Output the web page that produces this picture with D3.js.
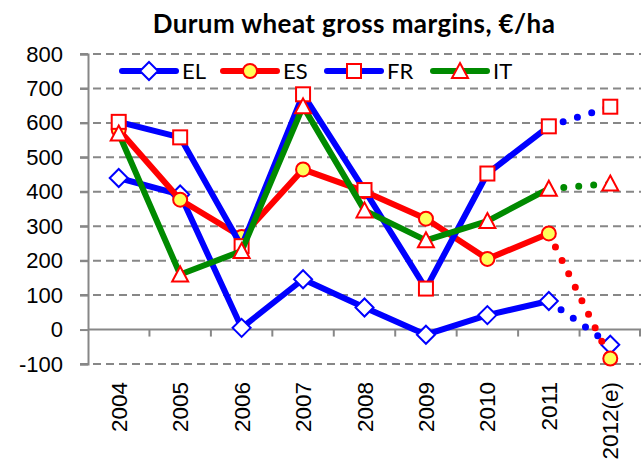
<!DOCTYPE html>
<html>
<head>
<meta charset="utf-8">
<script src="https://cdn.jsdelivr.net/npm/d3@7"></script>
<style>
  body { margin: 0; background: #fff; }
  svg { font-family: Lato, "Open Sans", sans-serif; }
</style>
</head>
<body>
<div id="chart"></div>
<script>
const w = 641,
      h = 461;

const years = ["2004", "2005", "2006", "2007", "2008", "2009", "2010", "2011", "2012(e)"];
const yTicks = [-100, 0, 100, 200, 300, 400, 500, 600, 700, 800];

const elValues = [440, 392, 5, 146, 64, -15, 42, 83, -44];
const esValues = [580, 377, 269, 465, 401, 322, 205, 279, -84];
const frValues = [603, 558, 242, 683, 405, 119, 453, 590, 647];
const itValues = [569, 160, 228, 648, 346, 259, 315, 409, 424];

const series = [
    {name: "EL", values: elValues, line: "#0000ff", marker: "diamond", mStroke: "#0000ff", mFill: "#fff"},
    {name: "ES", values: esValues, line: "#ff0000", marker: "circle", mStroke: "#ff0000", mFill: "#ffff5a"},
    {name: "FR", values: frValues, line: "#0000ff", marker: "square", mStroke: "#ff0000", mFill: "#fff"},
    {name: "IT", values: itValues, line: "#008a00", marker: "triangle", mStroke: "#ff0000", mFill: "#fff"}
];

const svg = d3.select("#chart")
    .append("svg")
    .attr("width", w)
    .attr("height", h);

const x = d3.scaleBand()
    .domain(years)
    .range([88, 641]);

const y = d3.scaleLinear()
    .domain([-100, 800])
    .range([364, 54]);

const gray = "#878787";

// gridlines
svg.append("g")
    .selectAll("line")
    .data(yTicks.filter(d => d !== 0))
    .enter()
    .append("line")
    .attr("x1", 80)
    .attr("x2", 641)
    .attr("y1", d => y(d))
    .attr("y2", d => y(d))
    .attr("stroke", gray)
    .attr("stroke-width", 2)
    .attr("stroke-dasharray", "8,5");

// y axis
const yAxis = d3.axisLeft(y).tickValues(yTicks).tickFormat(d => String(d)).tickSize(8).tickPadding(17);
const yAxisGroup = svg.append("g")
    .attr("transform", "translate(88,0)")
    .call(yAxis);
yAxisGroup.select(".domain").attr("stroke", gray).attr("stroke-width", 2);
yAxisGroup.selectAll(".tick line").attr("stroke", gray).attr("stroke-width", 2);
yAxisGroup.selectAll(".tick text")
    .attr("fill", "#000")
    .style("font-size", "22px");

// x axis line at zero with ticks at category edges
svg.append("line")
    .attr("x1", 88)
    .attr("x2", 641)
    .attr("y1", y(0))
    .attr("y2", y(0))
    .attr("stroke", gray)
    .attr("stroke-width", 2);

svg.append("g")
    .selectAll("line")
    .data(years.slice(1).map(d => x(d)).concat([x.range()[1] - 1]))
    .enter()
    .append("line")
    .attr("x1", d => d)
    .attr("x2", d => d)
    .attr("y1", y(0))
    .attr("y2", y(0) + 7)
    .attr("stroke", gray)
    .attr("stroke-width", 2);

// x labels below plot
const xAxis = d3.axisBottom(x).tickSize(0);
const xAxisGroup = svg.append("g")
    .attr("transform", "translate(0," + y(-100) + ")")
    .call(xAxis);
xAxisGroup.select(".domain").remove();
xAxisGroup.selectAll(".tick text")
    .attr("transform", "rotate(-90)")
    .attr("x", -18)
    .attr("y", 0)
    .attr("dy", "0.36em")
    .attr("text-anchor", "end")
    .attr("fill", "#000")
    .style("font-size", "22.5px");

// markers
function drawMarker(g, type, cx, cy, stroke, fill) {
    let m;
    if (type === "diamond") {
        m = g.append("path").attr("d", `M${cx},${cy - 9}L${cx + 9},${cy}L${cx},${cy + 9}L${cx - 9},${cy}Z`);
    } else if (type === "circle") {
        m = g.append("circle").attr("cx", cx).attr("cy", cy).attr("r", 7);
    } else if (type === "square") {
        m = g.append("rect").attr("x", cx - 7).attr("y", cy - 7).attr("width", 14).attr("height", 14);
    } else {
        m = g.append("path").attr("d", `M${cx},${cy - 8}L${cx + 8},${cy + 7}L${cx - 8},${cy + 7}Z`);
    }
    m.attr("stroke", stroke).attr("stroke-width", 2).attr("fill", fill);
}

const cx = d => x(d) + x.bandwidth() / 2;

series.forEach(s => {
    const g = svg.append("g");
    const pts = years.map((yr, i) => [cx(yr), y(s.values[i])]);
    const line = d3.line();

    g.append("path")
        .attr("d", line(pts.slice(0, 8)))
        .attr("fill", "none")
        .attr("stroke", s.line)
        .attr("stroke-width", 6)
        .attr("stroke-linejoin", "round");

    g.append("path")
        .attr("d", line(pts.slice(7)))
        .attr("fill", "none")
        .attr("stroke", s.line)
        .attr("stroke-width", 7)
        .attr("stroke-linecap", "round")
        .attr("stroke-dasharray", "0,15")
        .attr("stroke-dashoffset", -15);

    pts.forEach(p => drawMarker(g, s.marker, p[0], p[1], s.mStroke, s.mFill));
});

// legend
const legendX = [122, 223, 327, 433];
series.forEach((s, i) => {
    const g = svg.append("g");
    const x0 = legendX[i];
    g.append("line")
        .attr("x1", x0)
        .attr("x2", x0 + 54)
        .attr("y1", 71)
        .attr("y2", 71)
        .attr("stroke", s.line)
        .attr("stroke-width", 6)
        .attr("stroke-linecap", "round");
    drawMarker(g, s.marker, x0 + 27, 71, s.mStroke, s.mFill);
    g.append("text")
        .attr("x", x0 + 60)
        .attr("y", 71)
        .attr("dy", "0.36em")
        .style("font-size", "22px")
        .text(s.name);
});

// title
svg.append("text")
    .attr("x", 354)
    .attr("y", 33)
    .attr("text-anchor", "middle")
    .style("font-size", "26px")
    .style("font-weight", "bold")
    .style("letter-spacing", "0.4px")
    .text("Durum wheat gross margins, €/ha");
</script>
</body>
</html>
